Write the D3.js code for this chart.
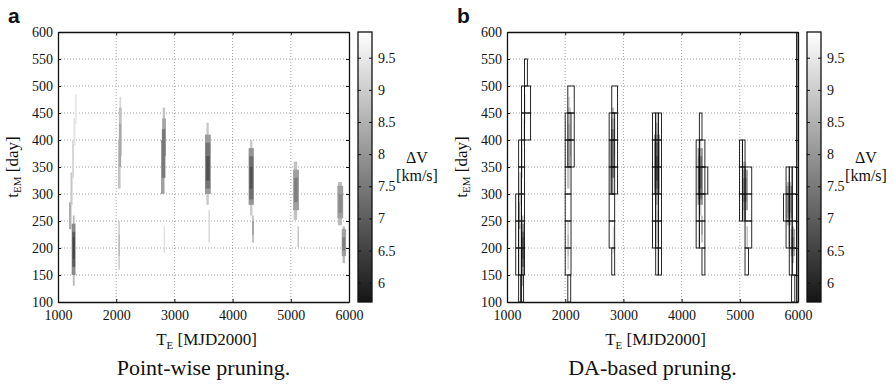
<!DOCTYPE html>
<html>
<head>
<meta charset="utf-8">
<script src="https://cdn.jsdelivr.net/npm/d3@7"></script>
<style>
  body { margin: 0; background: #fff; }
  text { font-family: "Liberation Serif", "DejaVu Serif", serif; fill: #111; }
</style>
</head>
<body>
<div id="chart"></div>
<script>
// Axis ticks
const xTicks = [1000, 2000, 3000, 4000, 5000, 6000];
const yTicks = [100, 150, 200, 250, 300, 350, 400, 450, 500, 550, 600];
const cbTicks = [6, 6.5, 7, 7.5, 8, 8.5, 9, 9.5];
const dvDomain = [5.7, 9.9];

// Point-wise feasible patches: [TE0, TE1, tEM0, tEM1, dV] (outer first, cores last)
const blobs = [
  [1190, 1230, 235, 285, 8.4], [1215, 1250, 280, 340, 8.9], [1240, 1275, 330, 400, 9.2],
  [1265, 1300, 390, 440, 9.4], [1290, 1325, 430, 485, 9.5],
  [1255, 1285, 130, 260, 8.6], [1235, 1300, 150, 245, 7.8], [1245, 1295, 165, 230, 7.0], [1255, 1285, 180, 220, 6.5],
  [2055, 2085, 420, 480, 9.2], [2030, 2075, 310, 400, 8.8], [2045, 2095, 370, 460, 8.8], [2050, 2085, 350, 430, 8.3],
  [2035, 2065, 160, 250, 9.1], [2040, 2065, 185, 225, 8.7],
  [2800, 2840, 420, 460, 8.8], [2770, 2830, 300, 400, 8.2], [2790, 2855, 370, 440, 8.3], [2785, 2845, 330, 420, 7.5],
  [2815, 2840, 190, 240, 9.3],
  [3550, 3590, 280, 432, 8.9], [3525, 3625, 300, 410, 8.1], [3535, 3615, 310, 395, 7.4], [3545, 3605, 325, 370, 6.8],
  [3585, 3610, 210, 270, 9.2],
  [4300, 4340, 260, 400, 8.9], [4275, 4365, 280, 385, 8.0], [4285, 4355, 290, 370, 7.3], [4295, 4345, 310, 350, 6.8],
  [4335, 4365, 210, 260, 8.7], [4340, 4360, 225, 250, 7.9],
  [5050, 5110, 252, 360, 8.8], [5040, 5140, 270, 345, 8.2], [5055, 5120, 285, 330, 7.6],
  [5115, 5140, 202, 240, 8.8],
  [5810, 5880, 242, 322, 8.7], [5800, 5900, 255, 315, 8.2], [5820, 5885, 265, 300, 7.8],
  [5890, 5930, 172, 240, 8.6], [5875, 5950, 185, 235, 8.2], [5885, 5935, 195, 220, 7.6]
];

// DA domain boxes: [TE0, TE1, tEM0, tEM1]
const daBoxes = [
  [1150, 1200, 150, 200], [1150, 1200, 200, 250], [1150, 1200, 250, 300],
  [1200, 1250, 150, 200], [1200, 1250, 200, 250], [1200, 1250, 250, 300], [1200, 1250, 300, 350], [1200, 1250, 350, 400],
  [1250, 1300, 150, 200], [1250, 1300, 200, 250], [1250, 1300, 250, 300], [1250, 1300, 300, 350], [1250, 1300, 350, 400],
  [1250, 1300, 400, 450], [1250, 1300, 450, 500], [1300, 1405, 400, 450], [1300, 1405, 450, 500],
  [1300, 1350, 500, 550], [1200, 1235, 100, 150], [1250, 1285, 100, 150],
  [2000, 2100, 150, 200], [2000, 2100, 200, 250], [2000, 2100, 250, 300], [2000, 2100, 300, 350],
  [2000, 2100, 350, 400], [2000, 2100, 400, 450],
  [2045, 2155, 350, 400], [2045, 2155, 400, 450], [2045, 2155, 450, 500], [2045, 2095, 100, 150],
  [2755, 2850, 200, 250], [2755, 2850, 250, 300], [2755, 2850, 300, 350], [2755, 2850, 350, 400], [2755, 2850, 400, 450],
  [2800, 2900, 300, 350], [2800, 2900, 350, 400], [2800, 2900, 400, 450], [2800, 2900, 450, 500],
  [2800, 2850, 150, 200],
  [3500, 3555, 200, 250], [3500, 3555, 250, 300], [3500, 3555, 300, 350], [3500, 3555, 350, 400], [3500, 3555, 400, 450],
  [3555, 3600, 200, 250], [3555, 3600, 250, 300], [3555, 3600, 300, 350], [3555, 3600, 350, 400], [3555, 3600, 400, 450],
  [3600, 3655, 200, 250], [3600, 3655, 250, 300], [3600, 3655, 300, 350], [3600, 3655, 350, 400], [3600, 3655, 400, 450],
  [3555, 3600, 150, 200], [3600, 3655, 150, 200],
  [4250, 4305, 200, 250], [4250, 4305, 250, 300], [4250, 4305, 300, 350], [4250, 4305, 350, 400],
  [4305, 4400, 200, 250], [4305, 4400, 250, 300], [4305, 4400, 300, 350], [4305, 4400, 350, 400],
  [4305, 4450, 300, 350], [4305, 4350, 400, 450], [4350, 4400, 150, 200],
  [4995, 5045, 250, 300], [4995, 5045, 300, 350], [4995, 5045, 350, 400],
  [5045, 5090, 250, 300], [5045, 5090, 300, 350], [5045, 5090, 350, 400],
  [5090, 5205, 200, 250], [5090, 5205, 250, 300], [5090, 5205, 300, 350], [5090, 5150, 150, 200],
  [5750, 5850, 250, 300],
  [5795, 5850, 200, 250], [5795, 5850, 250, 300], [5795, 5850, 300, 350],
  [5850, 5900, 200, 250], [5850, 5900, 250, 300], [5850, 5900, 300, 350],
  [5900, 5975, 200, 250], [5900, 5975, 250, 300], [5900, 5975, 300, 350],
  [5850, 5900, 150, 200], [5900, 5975, 150, 200], [5890, 5945, 100, 150],
  [5975, 6000, 100, 600]
];

const W = 894, H = 385;
const plotW = 291, plotH = 270, plotTop = 32;

const svg = d3.select("#chart").append("svg")
  .attr("width", W).attr("height", H);

const x = d3.scaleLinear().domain([1000, 6000]).range([0, plotW]);
const y = d3.scaleLinear().domain([100, 600]).range([plotH, 0]);
const color = d3.scaleLinear().domain(dvDomain).range(["#151515", "#ffffff"]);
const cbY = d3.scaleLinear().domain(dvDomain).range([plotH, 0]);

// Colorbar gradient
const defs = svg.append("defs");
const grad = defs.append("linearGradient")
  .attr("id", "cbgrad").attr("x1", 0).attr("y1", 1).attr("x2", 0).attr("y2", 0);
grad.selectAll("stop").data(dvDomain).join("stop")
  .attr("offset", (d, i) => i)
  .attr("stop-color", d => color(d));

defs.append("clipPath").attr("id", "plotclip")
  .append("rect").attr("width", plotW).attr("height", plotH);

function styleAxis(a) {
  a.attr("font-family", null).attr("font-size", null);
  a.selectAll("path").attr("stroke", "#111").attr("stroke-width", 1.3);
  a.selectAll("line").attr("stroke", "#111");
  a.selectAll("text").style("font-size", "14px")
    .style("font-family", "'Liberation Serif', serif").attr("fill", "#111");
}

function drawPanel(left, letter, caption, withBoxes) {
  const g = svg.append("g").attr("transform", `translate(${left},${plotTop})`);

  // Grid (dotted)
  g.append("g").selectAll("line").data(xTicks.slice(1, -1)).join("line")
    .attr("x1", d => x(d)).attr("x2", d => x(d))
    .attr("y1", 0).attr("y2", plotH)
    .attr("stroke", "#8a8a8a").attr("stroke-width", 0.8).attr("stroke-dasharray", "1,2");
  g.append("g").selectAll("line").data(yTicks.slice(1, -1)).join("line")
    .attr("y1", d => y(d)).attr("y2", d => y(d))
    .attr("x1", 0).attr("x2", plotW)
    .attr("stroke", "#8a8a8a").attr("stroke-width", 0.8).attr("stroke-dasharray", "1,2");

  const area = g.append("g").attr("clip-path", "url(#plotclip)");

  // Feasible patches
  area.append("g").selectAll("rect").data(blobs).join("rect")
    .attr("x", d => x(d[0]))
    .attr("width", d => x(d[1]) - x(d[0]))
    .attr("y", d => y(d[3]))
    .attr("height", d => y(d[2]) - y(d[3]))
    .attr("fill", d => color(d[4]));

  if (withBoxes) {
    area.append("g").selectAll("rect").data(daBoxes).join("rect")
      .attr("x", d => x(d[0]))
      .attr("width", d => x(d[1]) - x(d[0]))
      .attr("y", d => y(d[3]))
      .attr("height", d => y(d[2]) - y(d[3]))
      .attr("fill", "none")
      .attr("stroke", "#111").attr("stroke-width", 0.9);
  }

  // Axes with inward ticks
  const ax = g.append("g").attr("transform", `translate(0,${plotH})`)
    .call(d3.axisBottom(x).tickValues(xTicks).tickSize(-3).tickSizeOuter(0).tickPadding(8).tickFormat(d3.format("d")));
  const ay = g.append("g")
    .call(d3.axisLeft(y).tickValues(yTicks).tickSize(-3).tickSizeOuter(0).tickPadding(5).tickFormat(d3.format("d")));
  const at = g.append("g")
    .call(d3.axisTop(x).tickValues(xTicks).tickSize(-3).tickSizeOuter(0).tickFormat(""));
  const ar = g.append("g").attr("transform", `translate(${plotW},0)`)
    .call(d3.axisRight(y).tickValues(yTicks).tickSize(-3).tickSizeOuter(0).tickFormat(""));
  [ax, ay, at, ar].forEach(styleAxis);

  // Axis labels
  const xl = g.append("text").attr("x", plotW / 2 + 3).attr("y", 313)
    .attr("text-anchor", "middle").style("font-size", "17px");
  xl.append("tspan").text("T");
  xl.append("tspan").text("E").style("font-size", "11px").attr("dy", 4);
  xl.append("tspan").text(" [MJD2000]").attr("dy", -4);

  const yl = g.append("text")
    .attr("transform", `translate(${-44},${plotH / 2}) rotate(-90)`)
    .attr("text-anchor", "middle").attr("dominant-baseline", "middle").style("font-size", "17px");
  yl.append("tspan").text("t");
  yl.append("tspan").text("EM").style("font-size", "11px").attr("dy", 4);
  yl.append("tspan").text(" [day]").attr("dy", -4);

  // Caption
  g.append("text").attr("x", plotW / 2).attr("y", 343)
    .attr("text-anchor", "middle").style("font-size", "22px").text(caption);

  // Panel letter
  svg.append("text").attr("x", left - 50).attr("y", 23)
    .style("font-family", "'Liberation Sans', Arial, sans-serif").style("font-weight", "bold")
    .style("font-size", "21px").text(letter);

  // Colorbar
  const cb = g.append("g").attr("transform", `translate(${plotW + 9},0)`);
  const cbW = 14;
  cb.append("rect").attr("width", cbW).attr("height", plotH)
    .attr("fill", "url(#cbgrad)");
  const cbr = cb.append("g").attr("transform", `translate(${cbW},0)`)
    .call(d3.axisRight(cbY).tickValues(cbTicks).tickSize(-3).tickSizeOuter(0).tickPadding(6).tickFormat(d3.format("")));
  const cbl = cb.append("g")
    .call(d3.axisLeft(cbY).tickValues(cbTicks).tickSize(-3).tickSizeOuter(0).tickFormat(""));
  [cbr, cbl].forEach(styleAxis);
  cbr.select("path").attr("stroke", "none");
  cbl.select("path").attr("stroke", "none");
  cb.append("rect").attr("width", cbW).attr("height", plotH)
    .attr("fill", "none").attr("stroke", "#111").attr("stroke-width", 1.3);

  cb.append("text").attr("x", 59).attr("y", 131)
    .attr("text-anchor", "middle").style("font-size", "16px").text("ΔV");
  cb.append("text").attr("x", 59).attr("y", 149)
    .attr("text-anchor", "middle").style("font-size", "16px").text("[km/s]");
}

drawPanel(58, "a", "Point-wise pruning.", false);
drawPanel(507, "b", "DA-based pruning.", true);
</script>
</body>
</html>
